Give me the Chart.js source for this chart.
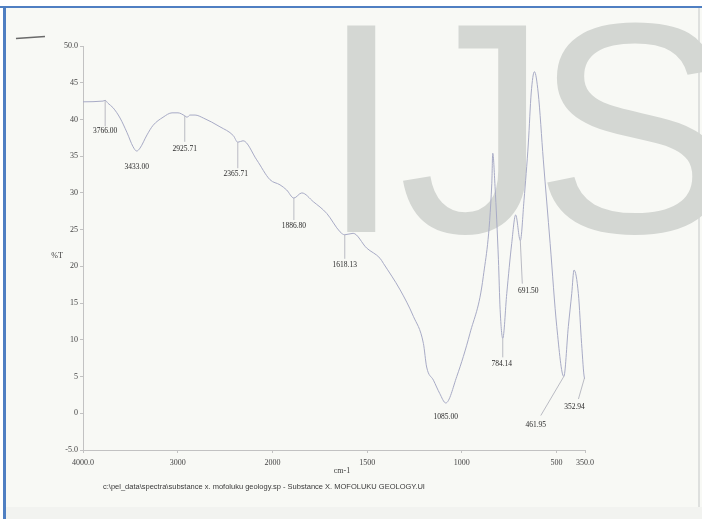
<!DOCTYPE html>
<html><head><meta charset="utf-8">
<script src="https://cdn.jsdelivr.net/npm/chart.js@4"></script>
<style>html,body{margin:0;padding:0;background:#fff;overflow:hidden}canvas{display:block}</style>
</head><body>
<canvas id="c" width="702" height="519"></canvas>
<script>
// ---- data ----
const wavenumbers = [4000, 3789, 3766, 3736, 3683, 3609, 3535, 3472, 3433, 3398, 3324, 3260, 3155, 3060, 2997, 2925.71, 2902, 2870, 2817, 2730, 2554, 2413, 2365.71, 2310, 2166, 2026, 1960, 1925, 1886.8, 1845, 1784, 1713, 1643, 1618.13, 1574, 1503, 1432, 1414, 1326, 1256, 1203, 1186, 1150, 1117, 1085, 1027, 957, 887, 842, 837, 825, 807, 798, 784.14, 763, 737, 716, 691.5, 672, 649, 634, 617, 597, 570, 534, 499, 461.95, 438, 420, 408, 385, 368, 352.94, 350];
const transmittance = [42.4, 42.5, 42.6, 42.2, 41.6, 40.2, 38.2, 36.3, 35.7, 36.1, 37.9, 39.2, 40.3, 40.9, 40.9, 40.5, 40.3, 40.6, 40.6, 40.2, 39.0, 37.8, 36.9, 37.1, 34.5, 31.8, 31.1, 30.4, 29.3, 30.0, 28.8, 27.2, 24.7, 24.3, 24.5, 22.5, 21.1, 20.4, 16.8, 13.2, 9.5, 6.3, 4.5, 2.7, 1.4, 5.0, 10.9, 18.6, 31.3, 35.4, 30.9, 20.9, 14.1, 10.2, 16.3, 23.1, 27.0, 23.5, 29.0, 36.8, 43.6, 46.5, 43.6, 34.5, 23.1, 11.8, 5.0, 11.8, 16.3, 19.5, 16.3, 9.5, 4.8, 4.7];

const peakWavenumbers = [3766, 3433, 2925.71, 2365.71, 1886.8, 1618.13, 1085, 784.14, 691.5, 461.95, 352.94];
const peakTransmittance = [42.6, 35.7, 40.5, 36.9, 29.3, 24.3, 1.4, 10.2, 23.5, 5.0, 4.8];
const peakLabels = ['3766.00', '3433.00', '2925.71', '2365.71', '1886.80', '1618.13', '1085.00', '784.14', '691.50', '461.95', '352.94'];

const xTickWavenumbers = [4000, 3000, 2000, 1500, 1000, 500, 350];
const xTickLabels = ['4000.0', '3000', '2000', '1500', '1000', '500', '350.0'];
const yTickValues = [50, 45, 40, 35, 30, 25, 20, 15, 10, 5, 0, -5];
const yTickLabels = ['50.0', '45', '40', '35', '30', '25', '20', '15', '10', '5', '0', '-5.0'];

const xTitle = 'cm-1';
const yTitle = '%T';
const footerText = 'c:\\pel_data\\spectra\\substance x. mofoluku geology.sp - Substance X. MOFOLUKU GEOLOGY.UI';
const watermarkLetters = ['I', 'J', 'S'];

// label placement styles: [dxConnectorEnd, dyConnectorEnd, dxText, dyText] (dy 0 = no connector)
const labelStyle = [[0,26,0,31],[0,0,0,16],[0,26,0,33],[0,26,-2,32],[0,22,0,28],[0,24,0,30],[0,0,0,14],[0,19,-1,26],[2,43,8,50],[-23,39,-28,48],[-6,21,-10,29]];
const watermarkLeft = [343, 403, 543];

// IR abscissa: half scale above 2000 cm-1
function toAxis(w){ return w >= 2000 ? (4000 - w) / 2 : 1000 + (2000 - w); }

const points = wavenumbers.map((w, i) => ({x: toAxis(w), y: transmittance[i]}));

const BG = 'rgb(248,249,245)';
const decor = {
  id: 'decor',
  beforeDraw(chart){
    const c = chart.ctx, W = chart.width, H = chart.height;
    c.save();
    c.fillStyle = '#ffffff'; c.fillRect(0,0,W,H);
    c.fillStyle = BG; c.fillRect(5,8,W-5,H-8);
    c.fillStyle = 'rgb(242,243,240)'; c.fillRect(5,507,W,12);
    c.fillStyle = '#4f7fc2'; c.fillRect(0,6,W,2); c.fillRect(3,6,3,H-6);
    c.fillStyle = 'rgb(222,224,222)'; c.fillRect(698,8,2,499);
    // watermark, each letter placed by its ink box
    c.font = '100px "Liberation Sans", Arial, sans-serif';
    const capRef = c.measureText('I').actualBoundingBoxAscent;
    const size = 100 * 207 / capRef;
    c.font = size + 'px "Liberation Sans", Arial, sans-serif';
    c.fillStyle = 'rgb(212,215,211)';
    c.textBaseline = 'alphabetic'; c.textAlign = 'left';
    watermarkLetters.forEach((ch, i) => {
      const m = c.measureText(ch);
      c.fillText(ch, watermarkLeft[i] + m.actualBoundingBoxLeft, 232);
    });
    // small dash at top-left
    c.strokeStyle = '#6a6a6a'; c.lineWidth = 1.3;
    c.beginPath(); c.moveTo(16,38.5); c.lineTo(45,36.5); c.stroke();
    c.restore();
  },
  afterDatasetsDraw(chart){
    const c = chart.ctx, xs = chart.scales.x, ys = chart.scales.y;
    c.save();
    c.font = '7.5px "Liberation Serif", "Times New Roman", serif';
    c.textAlign = 'center'; c.textBaseline = 'middle';
    peakWavenumbers.forEach((w, i) => {
      const px = xs.getPixelForValue(toAxis(w));
      const py = ys.getPixelForValue(peakTransmittance[i]);
      const s = labelStyle[i];
      if (s[1] !== 0) {
        c.strokeStyle = '#a9abb6'; c.lineWidth = 0.8;
        c.beginPath(); c.moveTo(px, py); c.lineTo(px + s[0], py + s[1]); c.stroke();
      }
      c.fillStyle = '#2a2a2a';
      c.fillText(peakLabels[i], px + s[2], py + s[3]);
    });
    c.restore();
  },
  afterDraw(chart){
    const c = chart.ctx;
    c.save();
    c.fillStyle = '#3a3a3a';
    c.font = '8px "Liberation Serif", "Times New Roman", serif';
    c.textBaseline = 'middle'; c.textAlign = 'center';
    c.fillText(yTitle, 57, 256);
    c.fillText(xTitle, 342, 471);
    c.font = '7.5px "Liberation Sans", Arial, sans-serif';
    c.textAlign = 'left';
    c.fillText(footerText, 103, 487);
    c.restore();
  }
};

new Chart(document.getElementById('c').getContext('2d'), {
  type: 'line',
  data: { datasets: [{
    data: points,
    borderColor: 'rgb(168,171,198)',
    borderWidth: 1,
    pointRadius: 0,
    cubicInterpolationMode: 'monotone',
    fill: false
  }]},
  options: {
    responsive: false, animation: false, devicePixelRatio: 1,
    layout: { padding: { left: 0, right: 117, top: 46, bottom: 0 } },
    plugins: { legend: { display: false }, tooltip: { enabled: false } },
    scales: {
      x: {
        type: 'linear', min: 0, max: toAxis(350),
        afterBuildTicks: s => { s.ticks = xTickWavenumbers.map(w => ({ value: toAxis(w) })); },
        afterFit: s => { s.height = 69; },
        ticks: { autoSkip: false, maxRotation: 0, padding: 5, color: '#444',
          font: { family: '"Liberation Serif", serif', size: 8 },
          callback: (v, i) => xTickLabels[i] },
        grid: { drawOnChartArea: false, drawTicks: true, tickLength: 3, color: '#c2c2c2' },
        border: { color: '#c2c2c2', width: 1 }
      },
      y: {
        min: -5, max: 50,
        afterBuildTicks: s => { s.ticks = yTickValues.map(v => ({ value: v })); },
        afterFit: s => { s.width = 83; },
        ticks: { autoSkip: false, padding: 2, color: '#444',
          font: { family: '"Liberation Serif", serif', size: 8 },
          callback: (v, i) => yTickLabels[i] },
        grid: { drawOnChartArea: false, drawTicks: true, tickLength: 3, color: '#c2c2c2' },
        border: { color: '#c2c2c2', width: 1 }
      }
    }
  },
  plugins: [decor]
});
</script>
</body></html>
